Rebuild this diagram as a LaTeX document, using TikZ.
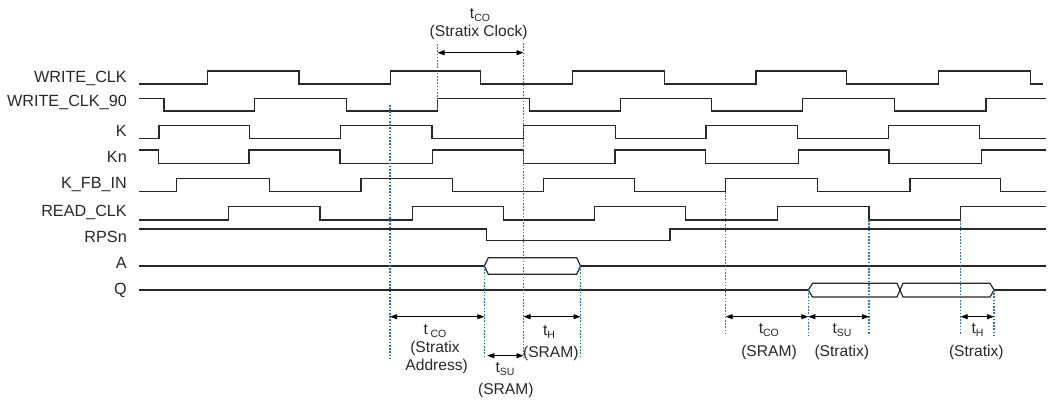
\documentclass[tikz,border=0pt]{standalone}
\usepackage{fontspec}
\setmainfont{Liberation Sans}
\usetikzlibrary{arrows.meta}
\definecolor{guide}{RGB}{40,120,185}
\definecolor{ink}{RGB}{40,40,40}
\newcommand{\lowsub}[1]{\raisebox{-3pt}{\fontsize{10.5}{12}\selectfont #1}}
\begin{document}
\begin{tikzpicture}[x=1pt,y=-1pt,
  sig/.style={draw=ink, line width=1.2pt, line join=miter},
  guideline/.style={draw=guide, line width=1.3pt, dash pattern=on 1.6pt off 1.6pt},
  dim/.style={draw=black, line width=0.9pt, {Triangle[length=7pt,width=5pt]}-{Triangle[length=7pt,width=5pt]}},
  lbl/.style={anchor=base east, inner sep=0pt, font=\fontsize{16.2}{18}\selectfont, text=ink},
  note/.style={anchor=base, inner sep=0pt, font=\fontsize{15.6}{18}\selectfont, text=ink}]
\useasboundingbox (0,0) rectangle (1048,400);

% signal names
\node[lbl] (nwclk)  at (127,82.7)  {WRITE\_CLK};
\node[lbl] (nwclk9) at (127,106.7) {WRITE\_CLK\_90};
\node[lbl] (nk)     at (127,136)   {K};
\node[lbl] (nkn)    at (127,162.7) {Kn};
\node[lbl] (nkfb)   at (127,188.3) {K\_FB\_IN};
\node[lbl] (nrclk)  at (127,216)   {READ\_CLK};
\node[lbl] (nrps)   at (127,242)   {RPSn};
\node[lbl] (na)     at (127,268.7) {A};
\node[lbl] (nq)     at (127,294.3) {Q};

% waveforms
\draw[sig] (139,84) -| (207.7,71) -| (299,84) -| (390.7,71) -| (480.7,84) -| (572.7,71) -| (664.3,84) -| (756,71) -| (846.7,84) -| (938.7,71) -| (1030.7,84) -- (1043,84);
\draw[sig] (139,98.3) -| (164,111) -| (254.3,98.3) -| (346.5,111) -| (437.7,98.3) -| (529.3,111) -| (620.7,98.3) -| (711.7,111) -| (802.7,98.3) -| (894.3,111) -| (986,98.3) -- (1046,98.3);
\draw[sig] (139,138.3) -| (159,125.7) -| (249.3,138.3) -| (340.7,125.7) -| (432,138.3) -| (523.5,125.7) -| (615.7,138.3) -| (706,125.7) -| (797.3,138.3) -| (888.3,125.7) -| (979.3,138.3) -- (1046,138.3);
\draw[sig] (139,150) -| (158.3,163.3) -| (249,150) -| (340,163.3) -| (432.7,150) -| (523.5,163.3) -| (615,150) -| (705.7,163.3) -| (798.3,150) -| (889,163.3) -| (981.7,150) -- (1046,150);
\draw[sig] (139,191.7) -| (176.7,178.3) -| (269.3,191.7) -| (361,178.3) -| (452.7,191.7) -| (543.3,178.3) -| (634.3,191.7) -| (725.7,178.3) -| (817.7,191.7) -| (910,178.3) -| (1000.7,191.7) -- (1046,191.7);
\draw[sig] (139,220) -| (228.7,206.7) -| (320,220) -| (412.3,206.7) -| (503.3,220) -| (594.3,206.7) -| (685.7,220) -| (777.3,206.7) -| (869,220) -| (960.7,206.7) -- (1046,206.7);
\draw[sig] (139,229) -| (486.7,240.7) -| (670,229) -- (1046,229);
% A bus
\draw[sig] (139,266) -- (484.3,266);
\draw[sig] (484.3,266) -- (488.3,257.7) -- (576.7,257.7) -- (580.5,266) -- (576.7,274.3) -- (488.3,274.3) -- cycle;
\draw[sig] (580.5,266) -- (1046,266);
% Q bus
\draw[sig] (139,290) -- (808.3,290);
\draw[sig] (808.3,290) -- (812.5,283.3) -- (897,283.3) -- (900,290) -- (897,297) -- (812.5,297) -- cycle;
\draw[sig] (900,290) -- (903,283.3) -- (990,283.3) -- (994,290) -- (990,297) -- (903,297) -- cycle;
\draw[sig] (994,290) -- (1046,290);

% guide lines
\coordinate (g1t) at (390,105);    \coordinate (g1b) at (390,358);
\coordinate (g2t) at (437.5,44);   \coordinate (g2b) at (437.5,111);
\coordinate (g3t) at (523.5,43);   \coordinate (g3b) at (523.5,358);
\coordinate (g4t) at (484.3,266);  \coordinate (g4b) at (484.3,358);
\coordinate (g5t) at (580.5,266);  \coordinate (g5b) at (580.5,358);
\coordinate (g6t) at (725.7,192);  \coordinate (g6b) at (725.7,335);
\coordinate (g7t) at (808.3,290);  \coordinate (g7b) at (808.3,335);
\coordinate (g8t) at (869,220);    \coordinate (g8b) at (869,335);
\coordinate (g9t) at (960.7,220);  \coordinate (g9b) at (960.7,335);
\coordinate (g10t) at (994,290);   \coordinate (g10b) at (994,335);
\foreach \g in {1,...,10} \draw[guideline] (g\g t) -- (g\g b);

% dimension rows
\coordinate (rowtop) at (0,52.7);
\coordinate (rowdim) at (0,316.7);
\coordinate (rowsu)  at (0,355.7);
\draw[dim] (g2t |- rowtop) -- (g3t |- rowtop);
\draw[dim] (g1t |- rowdim) -- (g4t |- rowdim);
\draw[dim, shorten <=3pt] (g4t |- rowsu) -- (g3t |- rowsu);
\draw[dim] (g3t |- rowdim) -- (g5t |- rowdim);
\draw[dim] (g6t |- rowdim) -- (g7t |- rowdim);
\draw[dim] (g7t |- rowdim) -- (g8t |- rowdim);
\draw[dim] (g9t |- rowdim) -- (g10t |- rowdim);

% annotations
\node[note] (tcoclk)  at (480,18.3)  {t\lowsub{CO}};
\node[note] (tcoclkb) at (478.7,36.5) {(Stratix Clock)};
\node[note] (tcoadr)  at (435,334.3) {t\,\lowsub{CO}};
\node[note] (tcoadrb) at (435,352.3) {(Stratix};
\node[note] (tcoadrc) at (436.7,370) {Address)};
\node[note] (tsusr)   at (505,372.7) {t\lowsub{SU}};
\node[note] (tsusrb)  at (505.8,394) {(SRAM)};
\node[note] (thsr)    at (549,335)   {t\lowsub{H}};
\node[note] (thsrb)   at (550.8,357.3) {(SRAM)};
\node[note] (tcosr)   at (768.8,333.3) {t\lowsub{CO}};
\node[note] (tcosrb)  at (769,356)   {(SRAM)};
\node[note] (tsust)   at (842,333.3) {t\lowsub{SU}};
\node[note] (tsustb)  at (841.8,356) {(Stratix)};
\node[note] (thst)    at (977.5,333.3) {t\lowsub{H}};
\node[note] (thstb)   at (976.3,356) {(Stratix)};
\end{tikzpicture}
\end{document}
